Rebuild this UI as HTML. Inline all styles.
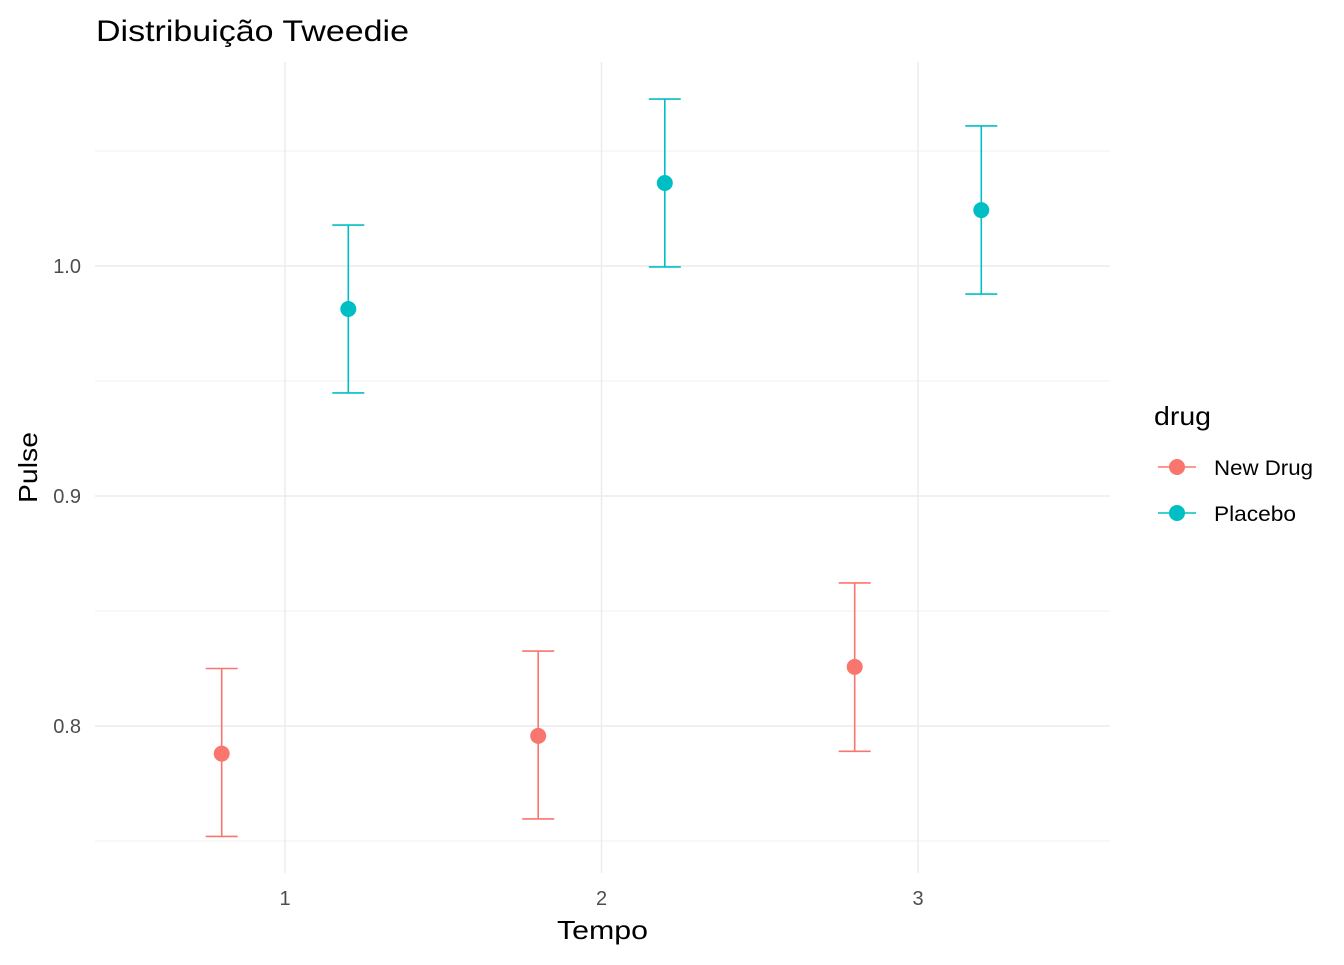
<!DOCTYPE html>
<html><head><meta charset="utf-8"><style>
body{margin:0;background:#fff;font-family:"Liberation Sans",Arial,sans-serif}
svg text{font-family:"Liberation Sans",Arial,sans-serif}
</style></head><body>
<svg id="chart" width="1344" height="960" xmlns="http://www.w3.org/2000/svg">
<text x="96" y="41" font-size="30" textLength="313" lengthAdjust="spacingAndGlyphs" fill="#000">Distribuição Tweedie</text>
<g id="grid"></g>
<g id="yticks"></g>
<g id="xticks"></g>
<g id="marks"></g>
<text x="557" y="939" font-size="26" textLength="91" lengthAdjust="spacingAndGlyphs" fill="#000">Tempo</text>
<text transform="translate(37,503) rotate(-90)" font-size="26" textLength="71" lengthAdjust="spacingAndGlyphs" fill="#000">Pulse</text>
<g>
<text x="1154" y="425" font-size="26" textLength="57" lengthAdjust="spacingAndGlyphs" fill="#000">drug</text>
<g>
<line x1="1158" x2="1196" y1="467" y2="467" stroke="#F8766D" stroke-width="1.5"/>
<circle cx="1177" cy="467" r="8" fill="#F8766D"/>
<text x="1214" y="475" font-size="21" textLength="99" lengthAdjust="spacingAndGlyphs" fill="#000">New Drug</text></g>
<g>
<line x1="1158" x2="1196" y1="513" y2="513" stroke="#00BFC4" stroke-width="1.5"/>
<circle cx="1177" cy="513" r="8" fill="#00BFC4"/>
<text x="1214" y="521" font-size="21" textLength="82" lengthAdjust="spacingAndGlyphs" fill="#000">Placebo</text></g>
</g>
</svg>
<script>
const times=[1,2,3];
const groups=["New Drug","Placebo"];
const newDrugMean=[0.788,0.7957,0.8257];
const newDrugLower=[0.752,0.7596,0.789];
const newDrugUpper=[0.825,0.8326,0.8622];
const placeboMean=[0.9813,1.0361,1.0243];
const placeboLower=[0.9448,0.9996,0.9878];
const placeboUpper=[1.0178,1.0726,1.0609];
const yTicks=[0.8,0.9,1.0];
const yTickLabels=["0.8","0.9","1.0"];
const yMinor=[0.75,0.85,0.95,1.05];
const xTickLabels=["1","2","3"];

const NS="http://www.w3.org/2000/svg";
const X=v=>285+(v-1)*316.5;
const Y=v=>266+(1.0-v)*2300;
const L=95,R=1110,T=62,B=873;
function mk(tag,attrs,parent){const e=document.createElementNS(NS,tag);for(const k in attrs)e.setAttribute(k,attrs[k]);parent.appendChild(e);return e;}
const grid=document.getElementById('grid'),yt=document.getElementById('yticks'),xt=document.getElementById('xticks'),marks=document.getElementById('marks');
yMinor.forEach(v=>{const e=mk('line',{x1:L,x2:R,y1:Y(v),y2:Y(v),stroke:'#ebebeb','stroke-width':0.7},grid);

});
yTicks.forEach((v,i)=>{const e=mk('line',{x1:L,x2:R,y1:Y(v),y2:Y(v),stroke:'#ebebeb','stroke-width':1.4},grid);


const t=mk('text',{x:81,y:Y(v)+7,'font-size':20,'text-anchor':'end',fill:'#4d4d4d'},yt);t.textContent=yTickLabels[i];

});
times.forEach((v,i)=>{const e=mk('line',{x1:X(v),x2:X(v),y1:T,y2:B,stroke:'#ebebeb','stroke-width':1.4},grid);


const t=mk('text',{x:X(v),y:905,'font-size':20,'text-anchor':'middle',fill:'#4d4d4d'},xt);t.textContent=xTickLabels[i];

});
const series=[{name:groups[0],m:newDrugMean,lo:newDrugLower,hi:newDrugUpper,c:'#F8766D',d:-0.2},
{name:groups[1],m:placeboMean,lo:placeboLower,hi:placeboUpper,c:'#00BFC4',d:0.2}];
series.forEach(s=>{times.forEach((t,i)=>{const x=X(t+s.d);
const g=mk('g',{},marks);


mk('line',{x1:x,x2:x,y1:Y(s.hi[i]),y2:Y(s.lo[i]),stroke:s.c,'stroke-width':1.6},g);
mk('line',{x1:x-16,x2:x+16,y1:Y(s.hi[i]),y2:Y(s.hi[i]),stroke:s.c,'stroke-width':1.6},g);
mk('line',{x1:x-16,x2:x+16,y1:Y(s.lo[i]),y2:Y(s.lo[i]),stroke:s.c,'stroke-width':1.6},g);
mk('circle',{cx:x,cy:Y(s.m[i]),r:8,fill:s.c},g);});});
</script>
</body></html>
